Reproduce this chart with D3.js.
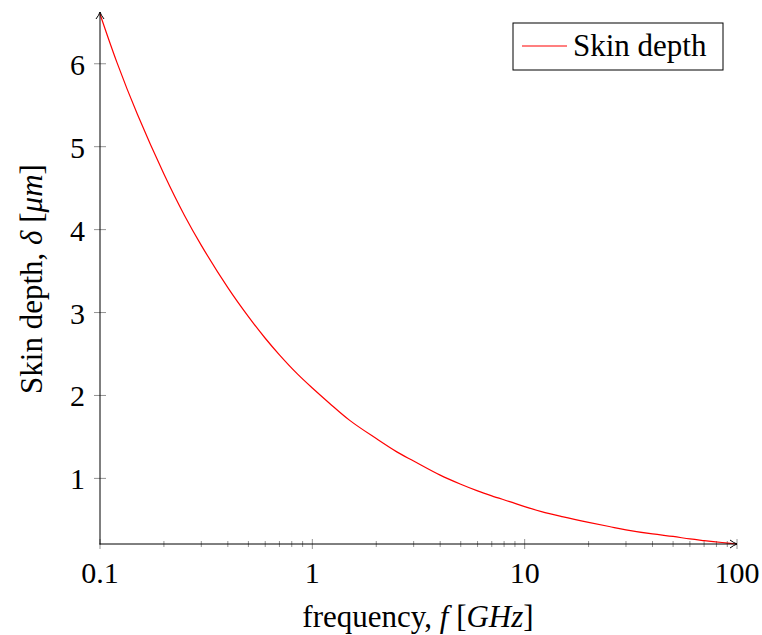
<!DOCTYPE html>
<html><head><meta charset="utf-8">
<script src="https://cdn.jsdelivr.net/npm/d3@7"></script>
<style>body{margin:0;background:#fff}svg{display:block}text{font-family:"Liberation Serif","Times New Roman",serif;fill:#000}</style>
</head><body>
<svg id="c" width="762" height="635"></svg>
<script>
const freq = [0.1, 0.12, 0.15, 0.2, 0.25, 0.3, 0.4, 0.5, 0.6, 0.7, 0.85, 1, 1.2, 1.5, 2, 2.5, 3, 4, 5, 6, 7, 8.5, 10, 12, 15, 20, 25, 30, 40, 50, 60, 70, 85, 100];
const depth = [6.6, 6.02, 5.39, 4.67, 4.17, 3.81, 3.30, 2.95, 2.69, 2.49, 2.26, 2.09, 1.91, 1.70, 1.48, 1.32, 1.21, 1.04, 0.93, 0.85, 0.79, 0.72, 0.66, 0.60, 0.54, 0.47, 0.42, 0.38, 0.33, 0.30, 0.27, 0.25, 0.227, 0.209];
const xTicks = [0.1, 1, 10, 100];
const xTickLabels = ["0.1", "1", "10", "100"];
const yTicks = [1, 2, 3, 4, 5, 6];
const legendLabel = "Skin depth";

const svg = d3.select("#c");
const L = 100, R = 737, T = 12, B = 544;
const x = d3.scaleLog().domain([0.1, 100]).range([L, R]);
const y = d3.scaleLinear().domain([0.209, 6.6]).range([B, 14]);

// minor ticks
const minor = [];
for (let d = 0.1; d < 100; d *= 10) for (let k = 2; k <= 9; k++) minor.push(d * k);
svg.append("g").selectAll("line").data(minor).join("line")
  .attr("x1", d => x(d)).attr("x2", d => x(d)).attr("y1", B - 3).attr("y2", B + 3)
  .attr("stroke", "#777").attr("stroke-width", 0.8);
svg.append("g").selectAll("line").data(xTicks).join("line")
  .attr("x1", d => x(d)).attr("x2", d => x(d)).attr("y1", B - 5).attr("y2", B + 5)
  .attr("stroke", "#777").attr("stroke-width", 0.8);
svg.append("g").selectAll("line").data(yTicks).join("line")
  .attr("x1", L - 6).attr("x2", L + 6).attr("y1", d => y(d)).attr("y2", d => y(d))
  .attr("stroke", "#777").attr("stroke-width", 0.8);

// curve
const line = d3.line().x((d, i) => x(freq[i])).y(d => y(d)).curve(d3.curveCatmullRom.alpha(0.5));
svg.append("path").attr("d", line(depth)).attr("fill", "none").attr("stroke", "#f00").attr("stroke-width", 1.2);

// axes with arrows
svg.append("line").attr("x1", L).attr("x2", L).attr("y1", B + 0.5).attr("y2", T).attr("stroke", "#000").attr("stroke-width", 1);
svg.append("line").attr("x1", L - 0.5).attr("x2", R).attr("y1", B).attr("y2", B).attr("stroke", "#000").attr("stroke-width", 1);
svg.append("path").attr("d", `M${L - 4},${T + 7} Q${L - 1},${T + 3} ${L},${T} Q${L + 1},${T + 3} ${L + 4},${T + 7}`).attr("fill", "none").attr("stroke", "#000").attr("stroke-width", 1);
svg.append("path").attr("d", `M${R - 7},${B - 4} Q${R - 3},${B - 1} ${R},${B} Q${R - 3},${B + 1} ${R - 7},${B + 4}`).attr("fill", "none").attr("stroke", "#000").attr("stroke-width", 1);

// tick labels
svg.append("g").selectAll("text").data(xTicks).join("text")
  .attr("x", d => x(d)).attr("y", 583).attr("text-anchor", "middle").attr("font-size", 30)
  .text((d, i) => xTickLabels[i]);
svg.append("g").selectAll("text").data(yTicks).join("text")
  .attr("x", 85).attr("y", d => y(d) + 11).attr("text-anchor", "end").attr("font-size", 30)
  .text(d => d);

// axis labels
const xl = svg.append("text").attr("x", 418).attr("y", 627).attr("text-anchor", "middle").attr("font-size", 31);
xl.append("tspan").text("frequency, ");
xl.append("tspan").attr("font-style", "italic").text("f");
xl.append("tspan").text(" [");
xl.append("tspan").attr("font-style", "italic").text("GHz");
xl.append("tspan").text("]");

const yl = svg.append("text").attr("transform", "translate(42,279) rotate(-90)").attr("text-anchor", "middle").attr("font-size", 31);
yl.append("tspan").text("Skin depth, ");
yl.append("tspan").attr("font-style", "italic").text("δ");
yl.append("tspan").text(" [");
yl.append("tspan").attr("font-style", "italic").text("μm");
yl.append("tspan").text("]");

// legend
svg.append("rect").attr("x", 513).attr("y", 23).attr("width", 210).attr("height", 47).attr("fill", "#fff").attr("stroke", "#000").attr("stroke-width", 1);
svg.append("line").attr("x1", 522).attr("x2", 567).attr("y1", 46).attr("y2", 46).attr("stroke", "#f00").attr("stroke-width", 1.2);
svg.append("text").attr("x", 573).attr("y", 56).attr("font-size", 31).text(legendLabel);
</script>
</body></html>
